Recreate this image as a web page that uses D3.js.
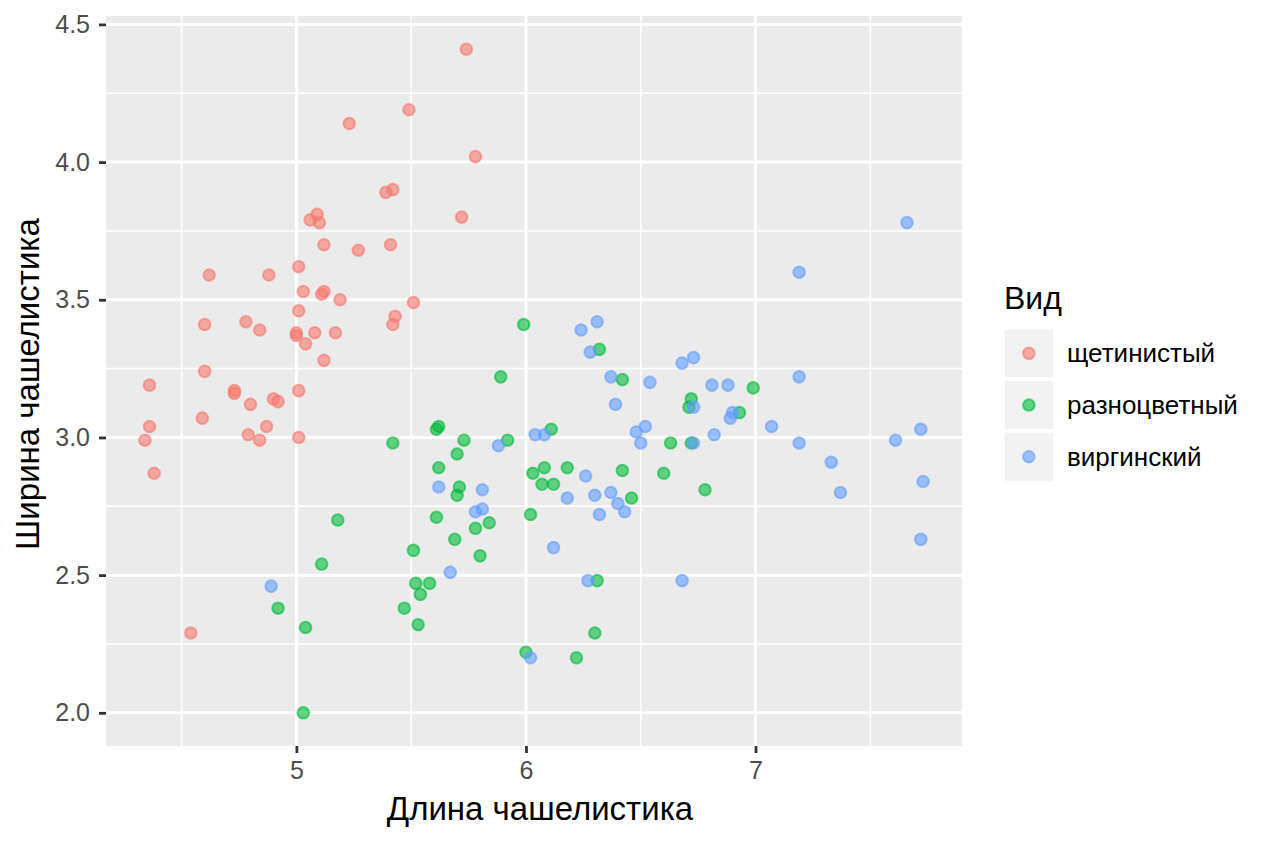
<!DOCTYPE html>
<html>
<head>
<meta charset="utf-8">
<script src="https://cdn.jsdelivr.net/npm/d3@7"></script>
<style>
  body { margin: 0; background: #ffffff; }
  text { font-family: "Liberation Sans", Arial, Helvetica, sans-serif; }
  .tick-label { fill: #4d4d4d; font-size: 25px; }
  .axis-title { fill: #000000; font-size: 33px; }
  .legend-title { fill: #000000; font-size: 32px; }
  .legend-label { fill: #000000; font-size: 26px; }
</style>
</head>
<body>
<div id="chart"></div>
<script>
// Species names (legend order)
var species = ["щетинистый", "разноцветный", "виргинский"];

// Sepal length / width (points are jittered)
var setosa_length = [5.74, 5.49, 5.23, 5.78, 5.72, 5.39, 5.42, 5.09, 5.06, 5.10,
  5.12, 5.27, 5.41, 4.62, 4.88, 5.01, 5.03, 5.11, 5.12, 5.19,
  5.01, 5.51, 4.60, 4.78, 4.84, 5.00, 5.00, 5.08, 5.17, 5.04,
  5.12, 5.43, 5.42, 4.60, 4.36, 4.73, 4.73, 4.80, 4.90, 4.92,
  5.01, 4.59, 4.36, 4.34, 4.79, 4.84, 4.87, 5.01, 4.38, 4.54];
var setosa_width = [4.41, 4.19, 4.14, 4.02, 3.80, 3.89, 3.90, 3.81, 3.79, 3.78,
  3.70, 3.68, 3.70, 3.59, 3.59, 3.62, 3.53, 3.52, 3.53, 3.50,
  3.46, 3.49, 3.41, 3.42, 3.39, 3.38, 3.37, 3.38, 3.38, 3.34,
  3.28, 3.44, 3.41, 3.24, 3.19, 3.17, 3.16, 3.12, 3.14, 3.13,
  3.17, 3.07, 3.04, 2.99, 3.01, 2.99, 3.04, 3.00, 2.87, 2.29];

var versicolor_length = [5.99, 5.89, 6.32, 6.42, 5.42, 5.61, 5.62, 5.73, 5.70, 5.62,
  5.92, 6.11, 6.63, 6.03, 6.08, 6.18, 6.07, 6.12, 6.42, 6.60,
  6.46, 5.71, 5.70, 5.61, 6.02, 5.84, 5.18, 5.11, 4.92, 5.04,
  5.03, 5.51, 5.52, 5.58, 5.54, 5.47, 5.53, 5.69, 5.78, 5.80,
  6.31, 6.30, 6.00, 6.22, 6.99, 6.72, 6.71, 6.93, 6.72, 6.78];
var versicolor_width = [3.41, 3.22, 3.32, 3.21, 2.98, 3.03, 3.04, 2.99, 2.94, 2.89,
  2.99, 3.03, 2.98, 2.87, 2.89, 2.89, 2.83, 2.83, 2.88, 2.87,
  2.78, 2.82, 2.79, 2.71, 2.72, 2.69, 2.70, 2.54, 2.38, 2.31,
  2.00, 2.59, 2.47, 2.47, 2.43, 2.38, 2.32, 2.63, 2.67, 2.57,
  2.48, 2.29, 2.22, 2.20, 3.18, 3.14, 3.11, 3.09, 2.98, 2.81];

var virginica_length = [7.66, 7.19, 7.19, 6.68, 6.73, 6.54, 6.81, 6.88, 6.73, 6.90,
  6.89, 6.52, 6.82, 7.07, 7.72, 7.61, 7.19, 6.73, 6.50, 7.33,
  7.37, 7.73, 7.72, 6.68, 6.24, 6.31, 6.28, 6.37, 6.39, 6.04,
  6.08, 6.48, 5.88, 6.26, 6.18, 6.30, 6.37, 6.40, 6.43, 6.32,
  5.62, 5.81, 5.78, 5.81, 4.89, 5.67, 6.12, 6.27, 6.02];
var virginica_width = [3.78, 3.60, 3.22, 3.27, 3.29, 3.20, 3.19, 3.19, 3.11, 3.09,
  3.07, 3.04, 3.01, 3.04, 3.03, 2.99, 2.98, 2.98, 2.98, 2.91,
  2.80, 2.84, 2.63, 2.48, 3.39, 3.42, 3.31, 3.22, 3.12, 3.01,
  3.01, 3.02, 2.97, 2.86, 2.78, 2.79, 2.80, 2.76, 2.73, 2.72,
  2.82, 2.81, 2.73, 2.74, 2.46, 2.51, 2.60, 2.48, 2.20];

// Axis ticks
var x_breaks = [5, 6, 7];
var x_minor = [4.5, 5.5, 6.5, 7.5];
var y_breaks = [2.0, 2.5, 3.0, 3.5, 4.0, 4.5];
var y_minor = [2.25, 2.75, 3.25, 3.75, 4.25];

var x_title = "Длина чашелистика",
  y_title = "Ширина чашелистика",
  legend_title = "Вид";

var width = 1264,
  height = 843;

var margin = { top: 16, right: 302, bottom: 97, left: 106 };

// Build one table of points in row order
var points = [];
[
  [setosa_length, setosa_width],
  [versicolor_length, versicolor_width],
  [virginica_length, virginica_width],
].forEach(function (s, k) {
  s[0].forEach(function (v, i) {
    points.push({ sp: species[k], x: v, y: s[1][i] });
  });
});

// ggplot-like 5% expansion of the data range
function expand(ext) {
  var d = (ext[1] - ext[0]) * 0.05;
  return [ext[0] - d, ext[1] + d];
}

var x = d3
  .scaleLinear()
  .domain(expand(d3.extent(points, (d) => d.x)))
  .range([margin.left, width - margin.right]);

var y = d3
  .scaleLinear()
  .domain(expand(d3.extent(points, (d) => d.y)))
  .range([height - margin.bottom, margin.top]);

var color = d3
  .scaleOrdinal()
  .domain(species)
  .range(["#F8766D", "#00BA38", "#619CFF"]);

var svg = d3
  .select("#chart")
  .append("svg")
  .attr("width", width)
  .attr("height", height)
  .attr("viewBox", [0, 0, width, height]);

// Panel background
svg
  .append("rect")
  .attr("x", x.range()[0])
  .attr("y", y.range()[1])
  .attr("width", x.range()[1] - x.range()[0])
  .attr("height", y.range()[0] - y.range()[1])
  .attr("fill", "#ebebeb");

// Minor grid lines
svg
  .selectAll(".x-minor")
  .data(x_minor)
  .enter()
  .append("line")
  .attr("x1", (d) => x(d))
  .attr("x2", (d) => x(d))
  .attr("y1", y.range()[0])
  .attr("y2", y.range()[1])
  .attr("stroke", "#ffffff")
  .attr("stroke-width", 1.5);

svg
  .selectAll(".y-minor")
  .data(y_minor)
  .enter()
  .append("line")
  .attr("x1", x.range()[0])
  .attr("x2", x.range()[1])
  .attr("y1", (d) => y(d))
  .attr("y2", (d) => y(d))
  .attr("stroke", "#ffffff")
  .attr("stroke-width", 1.5);

// Major grid lines
svg
  .selectAll(".x-major")
  .data(x_breaks)
  .enter()
  .append("line")
  .attr("x1", (d) => x(d))
  .attr("x2", (d) => x(d))
  .attr("y1", y.range()[0])
  .attr("y2", y.range()[1])
  .attr("stroke", "#ffffff")
  .attr("stroke-width", 3);

svg
  .selectAll(".y-major")
  .data(y_breaks)
  .enter()
  .append("line")
  .attr("x1", x.range()[0])
  .attr("x2", x.range()[1])
  .attr("y1", (d) => y(d))
  .attr("y2", (d) => y(d))
  .attr("stroke", "#ffffff")
  .attr("stroke-width", 3);

// Points
svg
  .selectAll(".pt")
  .data(points)
  .enter()
  .append("circle")
  .attr("cx", (d) => x(d.x))
  .attr("cy", (d) => y(d.y))
  .attr("r", 5.8)
  .attr("fill", (d) => color(d.sp))
  .attr("fill-opacity", 0.6)
  .attr("stroke", (d) => color(d.sp))
  .attr("stroke-opacity", 0.6)
  .attr("stroke-width", 2);

// Axes
var x_axis = d3
  .axisBottom(x)
  .tickValues(x_breaks)
  .tickSize(7)
  .tickPadding(8)
  .tickFormat(d3.format("d"));

var y_axis = d3
  .axisLeft(y)
  .tickValues(y_breaks)
  .tickSize(7)
  .tickPadding(9)
  .tickFormat(d3.format(".1f"));

svg
  .append("g")
  .attr("transform", "translate(0," + y.range()[0] + ")")
  .call(x_axis)
  .call((g) => g.select(".domain").remove());

svg
  .append("g")
  .attr("transform", "translate(" + x.range()[0] + ",0)")
  .call(y_axis)
  .call((g) => g.select(".domain").remove());

svg
  .selectAll(".tick line")
  .attr("stroke", "#333333")
  .attr("stroke-width", 2.8);

svg
  .selectAll(".tick text")
  .attr("class", "tick-label")
  .attr("font-family", null)
  .attr("font-size", null)
  .attr("fill", null);

// Axis titles
svg
  .append("text")
  .attr("class", "axis-title")
  .attr("x", (x.range()[0] + x.range()[1]) / 2 + 6)
  .attr("y", 820)
  .attr("text-anchor", "middle")
  .text(x_title);

svg
  .append("text")
  .attr("class", "axis-title")
  .attr(
    "transform",
    "translate(39," + ((y.range()[0] + y.range()[1]) / 2 + 3) + ") rotate(-90)"
  )
  .attr("text-anchor", "middle")
  .text(y_title);

// Legend
var key_size = 51.7,
  legend_x = 1003,
  legend_y = 327.5;

svg
  .append("text")
  .attr("class", "legend-title")
  .attr("x", 1004)
  .attr("y", 309)
  .text(legend_title);

var keys = svg
  .selectAll(".key")
  .data(species)
  .enter()
  .append("g")
  .attr(
    "transform",
    (d, i) => "translate(" + legend_x + "," + (legend_y + i * key_size) + ")"
  );

keys
  .append("rect")
  .attr("width", key_size)
  .attr("height", key_size)
  .attr("fill", "#f2f2f2")
  .attr("stroke", "#ffffff")
  .attr("stroke-width", 3.5);

keys
  .append("circle")
  .attr("cx", key_size / 2)
  .attr("cy", key_size / 2)
  .attr("r", 5.8)
  .attr("fill", (d) => color(d))
  .attr("fill-opacity", 0.6)
  .attr("stroke", (d) => color(d))
  .attr("stroke-opacity", 0.6)
  .attr("stroke-width", 2);

keys
  .append("text")
  .attr("class", "legend-label")
  .attr("x", 1067 - legend_x)
  .attr("y", key_size / 2)
  .attr("dy", "0.35em")
  .text((d) => d);
</script>
</body>
</html>
